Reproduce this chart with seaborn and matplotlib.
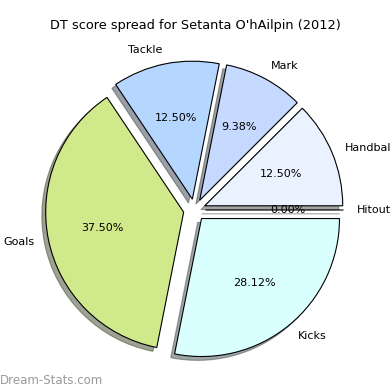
import matplotlib
matplotlib.use("Agg")
import matplotlib.pyplot as plt
import seaborn as sns

categories = ["Handball", "Mark", "Tackle", "Goals", "Kicks", "Hitout"]
values = [4, 3, 4, 12, 9, 0]
colors = ["#ebf2ff", "#c6d9ff", "#b5d7ff", "#d0e98a", "#d9ffff", "#e0e0ff"]
title = "DT score spread for Setanta O'hAilpin (2012)"

sns.set_style("white")
plt.rcParams['font.family'] = ['DejaVu Sans']
plt.rcParams['text.color'] = 'black'

fig = plt.figure(figsize=(3.9, 3.9), dpi=100)
ax = fig.add_axes([0, 0, 1, 1])
palette = sns.color_palette(colors)
wedges, texts, autotexts = ax.pie(
    values, labels=categories, colors=palette, explode=[0.08] * len(values),
    autopct="%.2f%%", startangle=0, counterclock=True, shadow=True,
    wedgeprops=dict(edgecolor="black", linewidth=0.8),
    textprops=dict(fontsize=8, color="black"), labeldistance=1.1, pctdistance=0.6)
R = 138.0
ax.set_xlim(-194.5 / R, (390 - 194.5) / R)
ax.set_ylim(-180 / R, 210 / R)
ax.set_aspect("equal")
ax.axis("off")
fig.text(0.5, 1 - 26 / 390, title, ha="center", va="center", fontsize=9.3, color="black")
fig.text(0.0, 1 - 380 / 390, "Dream-Stats.com", ha="left", va="center",
         fontsize=8.5, color="#999999")
fig.savefig("out.png", dpi=100)
